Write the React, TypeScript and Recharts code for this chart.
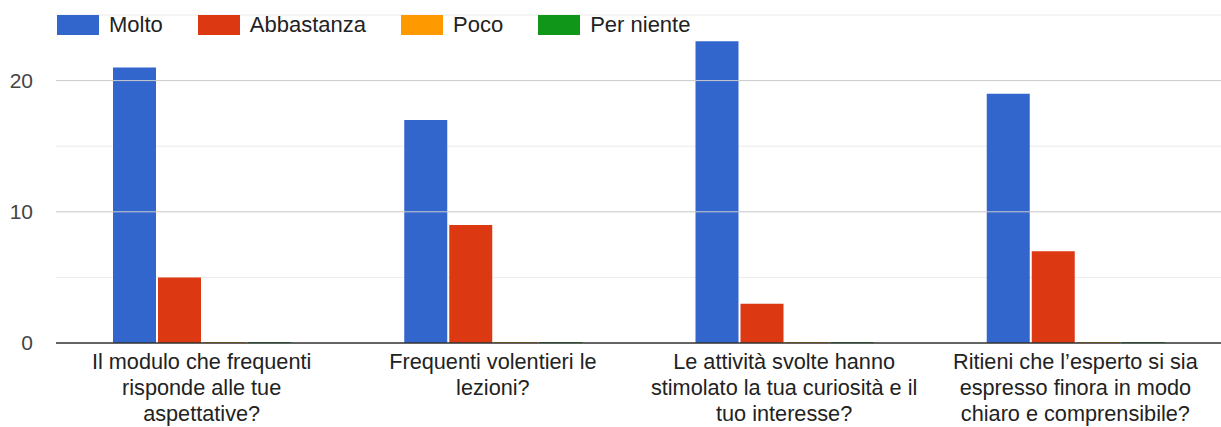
import { BarChart, Bar, XAxis, YAxis, CartesianGrid, ReferenceLine } from "recharts"

const categories = [
  "Il modulo che frequenti\nrisponde alle tue\naspettative?",
  "Frequenti volentieri le\nlezioni?",
  "Le attività svolte hanno\nstimolato la tua curiosità e il\ntuo interesse?",
  "Ritieni che l’esperto si sia\nespresso finora in modo\nchiaro e comprensibile?",
]

const molto = [21, 17, 23, 19]
const abbastanza = [5, 9, 3, 7]
const poco = [0, 0, 0, 0]
const perNiente = [0, 0, 0, 0]

const seriesNames = ["Molto", "Abbastanza", "Poco", "Per niente"]
const seriesKeys = ["molto", "abbastanza", "poco", "perNiente"]
const COLORS = ["#3366cc", "#dc3912", "#ff9900", "#109618"]

const yTicks = [0, 5, 10, 15, 20, 25]
const yLabels = [0, 10, 20]

const data = categories.map((name, i) => ({
  name,
  molto: molto[i],
  abbastanza: abbastanza[i],
  poco: poco[i],
  perNiente: perNiente[i],
}))

const FONT = "'Liberation Sans', Arial, sans-serif"

function CategoryTick(props: any) {
  const { x, y, payload } = props
  const lines = String(payload.value).split("\n")
  return (
    <text x={x} y={y} textAnchor="middle" fill="#222" fontSize={21.7} fontFamily={FONT}>
      {lines.map((line, i) => (
        <tspan key={i} x={x} dy={26}>
          {line}
        </tspan>
      ))}
    </text>
  )
}

export default function App() {
  return (
    <div style={{ position: "absolute", left: 0, top: 0, width: 1221, height: 427, fontFamily: FONT }}>
      <BarChart
        width={1221}
        height={427}
        data={data}
        margin={{ top: 15, right: 0, bottom: 0, left: 0 }}
        barSize={43}
        barGap={2}
      >
        <CartesianGrid vertical={false} stroke="#ebebeb" />
        <ReferenceLine y={10} stroke="#cccccc" />
        <ReferenceLine y={20} stroke="#cccccc" />
        <XAxis
          dataKey="name"
          height={84}
          tickLine={false}
          tickSize={0}
          tickMargin={0}
          axisLine={{ stroke: "#333", strokeWidth: 1.5 }}
          tick={<CategoryTick />}
          interval={0}
        />
        <YAxis
          width={56}
          domain={[0, 25]}
          ticks={yTicks}
          tickFormatter={(v: number) => (yLabels.includes(v) ? String(v) : "")}
          axisLine={false}
          tickLine={false}
          tickSize={0}
          tickMargin={23}
          tick={{ fill: "#444", fontSize: 21, fontFamily: FONT }}
        />
        {seriesKeys.map((key, i) => (
          <Bar
            key={key}
            dataKey={key}
            name={seriesNames[i]}
            fill={COLORS[i]}
            minPointSize={1}
            isAnimationActive={false}
          />
        ))}
      </BarChart>
      <div
        style={{
          position: "absolute",
          left: 57,
          top: 15,
          height: 20,
          display: "flex",
          alignItems: "center",
          fontSize: 22,
          color: "#222",
          whiteSpace: "nowrap",
        }}
      >
        {seriesNames.map((name, i) => (
          <div key={name} style={{ display: "flex", alignItems: "center", marginRight: 35 }}>
            <div style={{ width: 42, height: 20, background: COLORS[i], marginRight: 10 }} />
            <span>{name}</span>
          </div>
        ))}
      </div>
    </div>
  )
}
